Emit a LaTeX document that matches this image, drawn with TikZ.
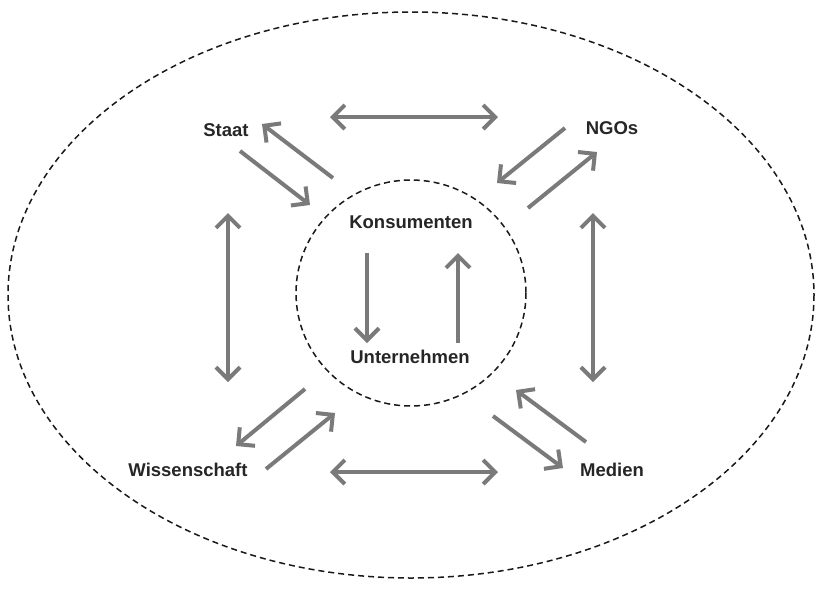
\documentclass[tikz,border=0pt]{standalone}
\usepackage{fontspec}
\setmainfont{Liberation Sans}
\usetikzlibrary{arrows.meta}
\begin{document}
\begin{tikzpicture}[x=1pt,y=-1pt,
  lbl/.style={font=\fontsize{18.5}{22}\selectfont\bfseries, text=black!85, inner sep=0pt},
  arr/.style={draw=black!52, line width=4pt, -{Straight Barb[length=12pt,width=24pt,line width=4pt]}},
  darr/.style={arr, {Straight Barb[length=12pt,width=24pt,line width=4pt]}-{Straight Barb[length=12pt,width=24pt,line width=4pt]}},
  dashline/.style={draw=black!90, line width=1.5pt, dash pattern=on 6pt off 4pt}]
\useasboundingbox (0,0) rectangle (817,590);
\draw[dashline] (411,295) ellipse [x radius=403, y radius=283];
\draw[dashline] (411,293) ellipse [x radius=115, y radius=113];
\node[lbl] (staat) at (226,130) {Staat};
\node[lbl] (ngo) at (612,128) {NGOs};
\node[lbl] (wiss) at (188,470) {Wissenschaft};
\node[lbl] (med) at (612,470) {Medien};
\node[lbl] (kons) at (411,222) {Konsumenten};
\node[lbl] (unt) at (410,357) {Unternehmen};
% coordinates for arrow ends
\coordinate (t1) at (330,117); \coordinate (t2) at (498,117);
\coordinate (b1) at (330,472); \coordinate (b2) at (498,472);
\coordinate (l1) at (228,213); \coordinate (l2) at (228,382);
\coordinate (r1) at (593,213); \coordinate (r2) at (593,382);
\draw[darr] (t1) -- (t2);
\draw[darr] (b1) -- (b2);
\draw[darr] (l1) -- (l2);
\draw[darr] (r1) -- (r2);
\coordinate (s1) at (333,178); \coordinate (s2) at (262,124);
\coordinate (s3) at (240,151); \coordinate (s4) at (310,205);
\draw[arr] (s1) -- (s2);
\draw[arr] (s3) -- (s4);
\coordinate (n1) at (565,128); \coordinate (n2) at (497,183);
\coordinate (n3) at (528,208); \coordinate (n4) at (597,152);
\draw[arr] (n1) -- (n2);
\draw[arr] (n3) -- (n4);
\coordinate (w1) at (305,389); \coordinate (w2) at (236,446);
\coordinate (w3) at (266,469); \coordinate (w4) at (335,413);
\draw[arr] (w1) -- (w2);
\draw[arr] (w3) -- (w4);
\coordinate (m1) at (586,442); \coordinate (m2) at (516,390);
\coordinate (m3) at (493,416); \coordinate (m4) at (563,468);
\draw[arr] (m1) -- (m2);
\draw[arr] (m3) -- (m4);
\coordinate (k1) at (367,253); \coordinate (k2) at (367,343);
\coordinate (k3) at (458,343); \coordinate (k4) at (458,253);
\draw[arr] (k1) -- (k2);
\draw[arr] (k3) -- (k4);
\end{tikzpicture}
\end{document}
